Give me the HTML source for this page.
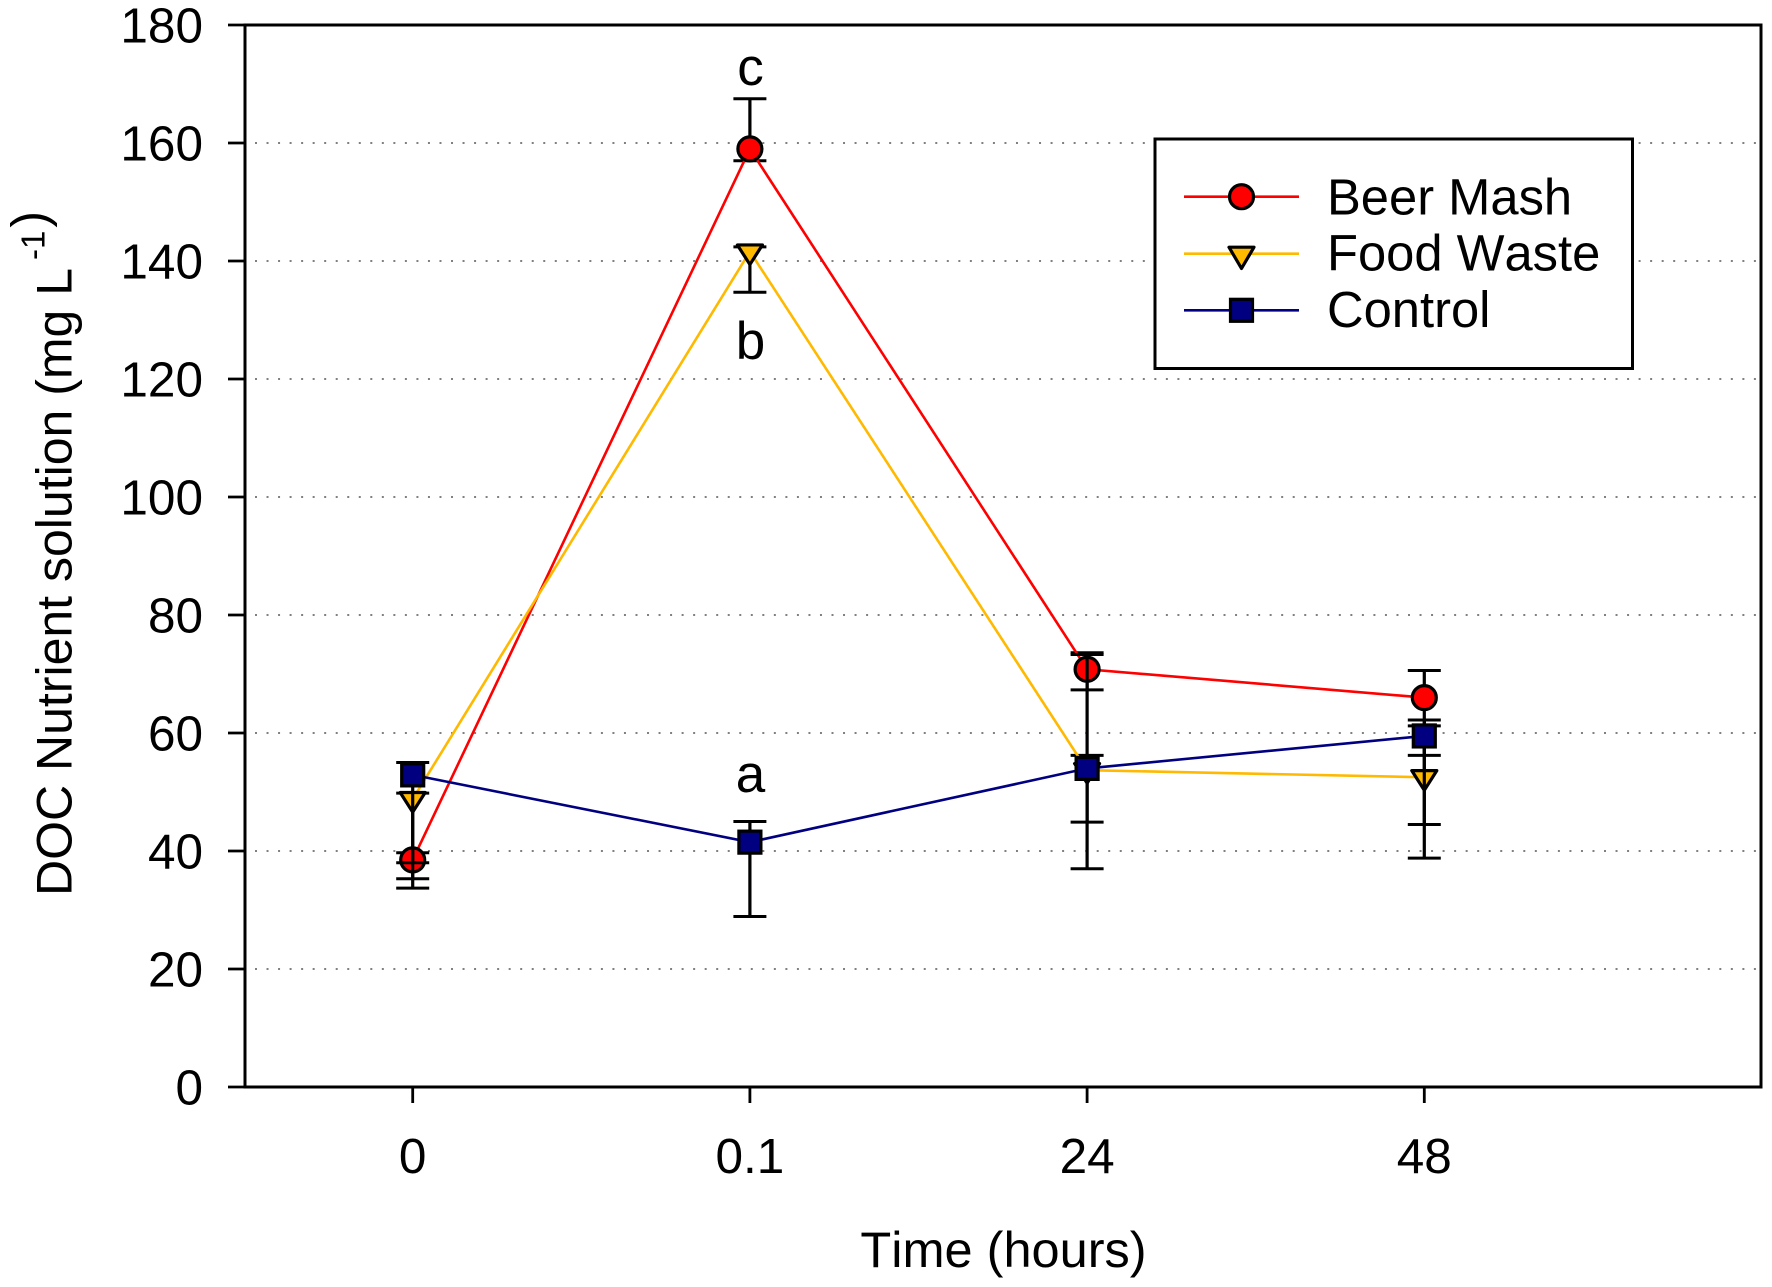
<!DOCTYPE html>
<html lang="en">
<head>
<meta charset="utf-8">
<title>DOC Nutrient solution over time</title>
<style>
  html, body { margin: 0; padding: 0; background: #fff; }
  svg { display: block; }
  text { font-family: "Liberation Sans", Arial, sans-serif; fill: #000; font-kerning: none; }
</style>
</head>
<body>
<svg id="chart" xmlns="http://www.w3.org/2000/svg" width="1772" height="1287" viewBox="0 0 1772 1287">
  <rect x="0" y="0" width="1772" height="1287" fill="#fff"/>
  <g id="grid"></g>
  <rect x="245" y="25" width="1516" height="1062" fill="none" stroke="#000" stroke-width="3"/>
  <g id="yticks"></g>
  <g id="xticks"></g>
  <g id="series"></g>
  <text transform="translate(71.5,896) rotate(-90)" font-size="50">DOC Nutrient solution (mg L<tspan font-size="33" dy="-27" dx="8">-1</tspan><tspan font-size="50" dy="2" dx="3">)</tspan></text>
  <text x="1003.5" y="1267" font-size="50.5" text-anchor="middle">Time (hours)</text>
  <text x="750.5" y="85" font-size="53" text-anchor="middle">c</text>
  <text x="750.5" y="359" font-size="53" text-anchor="middle">b</text>
  <text x="750.5" y="792" font-size="53" text-anchor="middle">a</text>
  <g>
    <rect x="1155" y="139" width="477.5" height="229.5" fill="#fff" stroke="#000" stroke-width="3"/>
    <g>
      <line x1="1184" x2="1299" y1="196.7" y2="196.7" stroke="#ff0000" stroke-width="2.6"/>
      <circle cx="1241.5" cy="196.7" r="12" fill="#ff0000" stroke="#000" stroke-width="3.2"/>
      <text x="1327" y="214.3" font-size="50.7">Beer Mash</text>
    </g>
    <g>
      <line x1="1184" x2="1299" y1="253.7" y2="253.7" stroke="#ffb900" stroke-width="2.6"/>
      <polygon points="1229,247.2 1254,247.2 1241.5,268.5" fill="#ffb900" stroke="#000" stroke-width="3.2" stroke-linejoin="round"/>
      <text x="1327" y="270.7" font-size="50.7">Food Waste</text>
    </g>
    <g>
      <line x1="1184" x2="1299" y1="310.3" y2="310.3" stroke="#000080" stroke-width="2.6"/>
      <rect x="1230.5" y="299.3" width="22" height="22" fill="#000080" stroke="#000" stroke-width="3.2"/>
      <text x="1327" y="327" font-size="50.7">Control</text>
    </g>
  </g>
</svg>
<script>
// ---- chart data ----
var categories = ['0', '0.1', '24', '48'];
var yTickValues = [0, 20, 40, 60, 80, 100, 120, 140, 160, 180];
var gridValues = [20, 40, 60, 80, 100, 120, 140, 160];

var beerValues = [38.5, 159, 70.8, 66];
var beerUpper = [39.7, 167.5, 73.6, 70.6];
var beerLower = [35.3, 157, 67.3, 56.2];

var foodValues = [48.8, 141.6, 53.7, 52.5];
var foodUpper = [49.8, 142.4, 56.2, 61.2];
var foodLower = [38, 134.7, 44.9, 44.5];

var controlValues = [52.9, 41.5, 54, 59.5];
var controlUpper = [55, 45, 73.3, 62.2];
var controlLower = [33.7, 28.9, 37, 38.8];

// ---- axis functions ----
function yScale(v) { return 1087 - v * 5.9; }
function xScale(i) { return 412.7 + i * 337.2; }

var NS = 'http://www.w3.org/2000/svg';
function mk(parent, tag, attrs, txt) {
  var el = document.createElementNS(NS, tag);
  for (var k in attrs) el.setAttribute(k, attrs[k]);
  if (txt !== undefined) el.textContent = txt;
  parent.appendChild(el);
  return el;
}

var gridG = document.getElementById('grid');
gridValues.forEach(function (v) {
  var el = mk(gridG, 'line', { x1: 255, x2: 1760, y1: yScale(v), y2: yScale(v), stroke: '#808080', 'stroke-width': 2, 'stroke-dasharray': '2 9.53' });
  
  
});

var yG = document.getElementById('yticks');
yTickValues.forEach(function (v) {
  var t = mk(yG, 'line', { x1: 228, x2: 245, y1: yScale(v), y2: yScale(v), stroke: '#000', 'stroke-width': 2.8 });
  
  
  var l = mk(yG, 'text', { x: 203, y: yScale(v) + 17.5, 'font-size': 49.5, 'text-anchor': 'end' }, String(v));
  
  
});

var xG = document.getElementById('xticks');
categories.forEach(function (c, i) {
  var t = mk(xG, 'line', { x1: xScale(i), x2: xScale(i), y1: 1087, y2: 1103, stroke: '#000', 'stroke-width': 2.8 });
  
  
  var l = mk(xG, 'text', { x: xScale(i), y: 1173, 'font-size': 49.5, 'text-anchor': 'middle' }, c);
  
  
});

function drawSeries(key, color, values, upper, lower, markerFn) {
  var seriesRoot = document.getElementById('series');
  var g = mk(seriesRoot, 'g', {});
  
  

  values.forEach(function (v, i) {
    var x = xScale(i);
    var bar = mk(g, 'line', { x1: x, x2: x, y1: yScale(upper[i]), y2: yScale(lower[i]), stroke: '#000', 'stroke-width': 3.2 });
    
    
    var capU = mk(g, 'line', { x1: x - 16.5, x2: x + 16.5, y1: yScale(upper[i]), y2: yScale(upper[i]), stroke: '#000', 'stroke-width': 3 });
    
    
    var capL = mk(g, 'line', { x1: x - 16.5, x2: x + 16.5, y1: yScale(lower[i]), y2: yScale(lower[i]), stroke: '#000', 'stroke-width': 3 });
    
    
  });

  var pts = values.map(function (v, i) { return xScale(i) + ',' + yScale(v); }).join(' ');
  var line = mk(g, 'polyline', { points: pts, fill: 'none', stroke: color, 'stroke-width': 2.6 });
  
  

  values.forEach(function (v, i) {
    var m = markerFn(g, xScale(i), yScale(v));
    
    
  });
}

function circleMarker(g, x, y) {
  return mk(g, 'circle', { cx: x, cy: y, r: 12, fill: '#ff0000', stroke: '#000', 'stroke-width': 3.2 });
}
function triangleMarker(g, x, y) {
  var p = (x - 12.5) + ',' + (y - 6.6) + ' ' + (x + 12.5) + ',' + (y - 6.6) + ' ' + x + ',' + (y + 13);
  return mk(g, 'polygon', { points: p, fill: '#ffb900', stroke: '#000', 'stroke-width': 3.2, 'stroke-linejoin': 'round' });
}
function squareMarker(g, x, y) {
  return mk(g, 'rect', { x: x - 11, y: y - 11, width: 22, height: 22, fill: '#000080', stroke: '#000', 'stroke-width': 3.2 });
}

drawSeries('beer-mash', '#ff0000', beerValues, beerUpper, beerLower, circleMarker);
drawSeries('food-waste', '#ffb900', foodValues, foodUpper, foodLower, triangleMarker);
drawSeries('control', '#000080', controlValues, controlUpper, controlLower, squareMarker);
</script>
</body>
</html>
